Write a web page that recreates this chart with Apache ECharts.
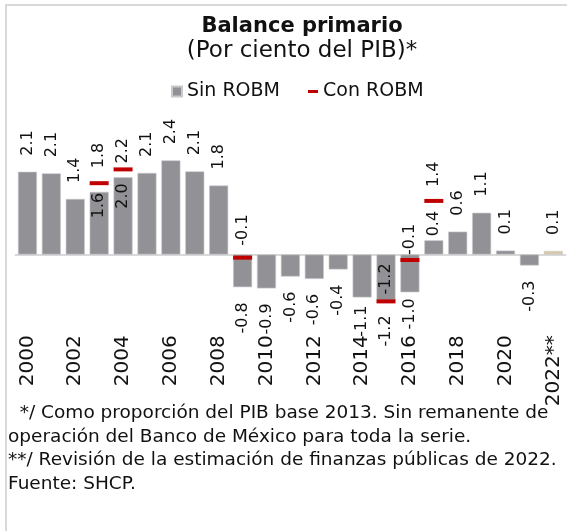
<!DOCTYPE html>
<html>
<head>
<meta charset="utf-8">
<script src="https://cdn.jsdelivr.net/npm/echarts@6/dist/echarts.min.js"></script>
<style>
  html, body { margin: 0; padding: 0; background: #fff; }
  #chart { width: 567px; height: 531px; }
</style>
</head>
<body>
<div id="chart"></div>
<script>
  // años (el último es estimación revisada)
  const years = ['2000', '2001', '2002', '2003', '2004', '2005', '2006', '2007', '2008', '2009', '2010',
    '2011', '2012', '2013', '2014', '2015', '2016', '2017', '2018', '2019', '2020', '2021', '2022**'];
  // balance primario sin remanente de operación del Banco de México (% del PIB)
  const sinRobm = [2.10, 2.06, 1.41, 1.59, 1.96, 2.07, 2.39, 2.11, 1.75, -0.83, -0.86,
    -0.56, -0.62, -0.38, -1.09, -1.17, -0.96, 0.36, 0.58, 1.06, 0.10, -0.28, 0.09];
  // con remanente (solo años en que hubo)
  const conRobm = [null, null, null, 1.81, 2.16, null, null, null, null, -0.08, null,
    null, null, null, null, -1.19, -0.14, 1.36, null, null, null, null, null];

  const footnotes = [
    '  */ Como proporción del PIB base 2013. Sin remanente de',
    'operación del Banco de México para toda la serie.',
    '**/ Revisión de la estimación de finanzas públicas de 2022.',
    'Fuente: SHCP.'
  ];

  const FONT = 'DejaVu Sans';
  const GRAY = '#929196';

  // ajustes de etiqueta por índice: [posición, distancia]
  const sinLabelFix = { 3: ['insideTop', 1], 4: ['insideTop', 6], 14: ['bottom', 8],
    15: ['insideBottom', 6], 16: ['bottom', 6], 17: ['top', 4] };
  const conLabelFix = { 3: ['top', 13], 4: ['top', 4], 9: ['top', 10], 15: ['bottom', 12],
    16: ['top', 3], 17: ['top', 12] };

  function alignFor(pos) {
    return (pos === 'top' || pos === 'insideBottom') ? 'left' : 'right';
  }

  const sinData = sinRobm.map((v, i) => {
    let fix = sinLabelFix[i];
    let pos = fix ? fix[0] : (v >= 0 ? 'top' : 'bottom');
    let dist = fix ? fix[1] : (v >= 0 ? 16 : 15);
    let item = {
      value: v,
      label: { position: pos, distance: dist, align: alignFor(pos) }
    };
    if (i === years.length - 1) item.itemStyle = { color: '#d8c8a6' };
    return item;
  });

  const conData = conRobm.map((v, i) => {
    if (v === null) return '-';
    let fix = conLabelFix[i];
    return {
      value: v,
      label: { position: fix[0], distance: fix[1], align: alignFor(fix[0]) }
    };
  });

  const labelBase = {
    show: true,
    rotate: 90,
    verticalAlign: 'middle',
    fontFamily: FONT,
    fontSize: 16,
    color: '#111',
    formatter: p => Number(p.value).toFixed(1)
  };

  const chart = echarts.init(document.getElementById('chart'));
  const option = {
    animation: false,
    textStyle: { fontFamily: FONT },
    title: {
      text: 'Balance primario',
      subtext: '(Por ciento del PIB)*',
      left: 297,
      top: 11,
      textAlign: 'center',
      itemGap: 3,
      textStyle: { fontFamily: FONT, fontSize: 21, fontWeight: 'bold', color: '#111' },
      subtextStyle: { fontFamily: FONT, fontSize: 23, color: '#111' }
    },
    legend: [{
      data: ['Sin ROBM'],
      left: 166,
      top: 77,
      itemWidth: 10,
      itemHeight: 10,
      icon: 'rect',
      textStyle: { fontFamily: FONT, fontSize: 19, color: '#111' }
    }, {
      data: ['Con ROBM'],
      left: 303,
      top: 77,
      itemWidth: 10,
      itemHeight: 3,
      icon: 'rect',
      textStyle: { fontFamily: FONT, fontSize: 19, color: '#111' }
    }],
    grid: { left: 15.5, right: 1.7, top: 136.3, bottom: 197.7 },
    xAxis: {
      type: 'category',
      data: years,
      axisLine: { onZero: true, lineStyle: { color: '#d9d9d9', width: 2 } },
      axisTick: { show: false },
      axisLabel: {
        interval: 1,
        rotate: 90,
        margin: 2,
        align: 'right',
        verticalAlign: 'middle',
        fontFamily: FONT,
        fontSize: 20,
        color: '#111'
      }
    },
    yAxis: {
      type: 'value',
      min: -2,
      max: 3,
      show: false,
      splitLine: { show: false }
    },
    series: [{
      name: 'Sin ROBM',
      type: 'bar',
      barWidth: 19,
      itemStyle: { color: GRAY, borderColor: '#c9c9cc', borderWidth: 0.6 },
      label: labelBase,
      data: sinData,
      z: 2
    }, {
      name: 'Con ROBM',
      type: 'scatter',
      symbol: 'rect',
      symbolSize: [19, 4],
      itemStyle: { color: '#c00000', opacity: 1 },
      label: labelBase,
      data: conData,
      z: 3
    }],
    graphic: [{
      type: 'rect',
      shape: { x: 6, y: 5, width: 700, height: 700 },
      style: { fill: 'none', stroke: '#d9d9d9', lineWidth: 2 },
      silent: true,
      z: -1
    }].concat(footnotes.map((t, i) => ({
      type: 'text',
      left: 8,
      top: 404 + i * 23.5,
      style: { text: t, font: '18.5px "' + FONT + '"', fill: '#111' }
    })))
  };
  chart.setOption(option);
  window.addEventListener('resize', chart.resize);
</script>
</body>
</html>
